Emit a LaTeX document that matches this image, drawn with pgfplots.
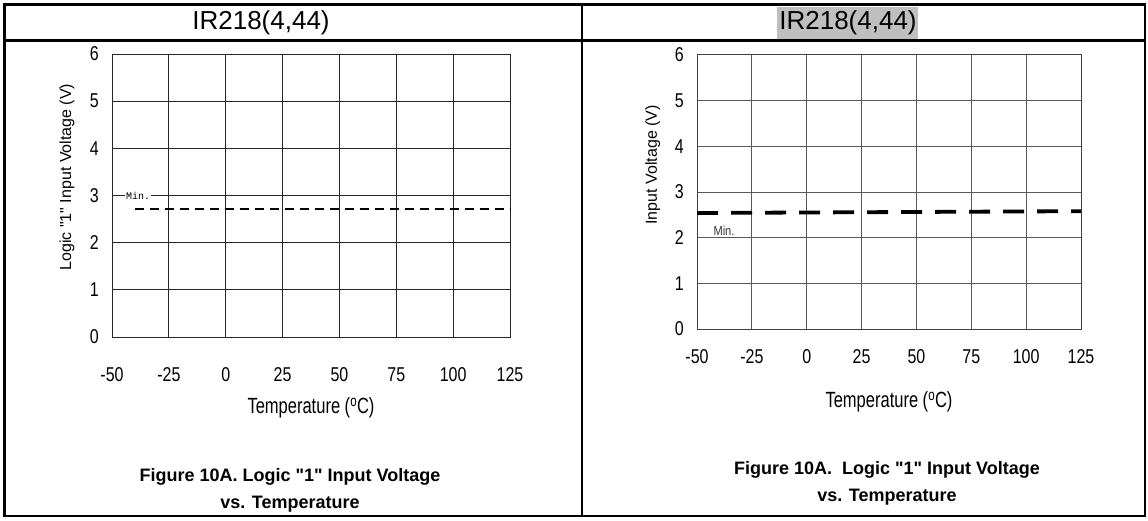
\documentclass[border=0pt]{standalone}
\usepackage{graphicx}
\usepackage{pgfplots}
\pgfplotsset{compat=1.18}
\usepackage{fontspec}
\setmainfont{Liberation Sans}[Ligatures=TeXOff]
\newfontfamily\monofont{Liberation Mono}
\pgfplotsset{chip/.style={
  scale only axis, anchor=south west,
  xmin=-50, xmax=125, ymin=0, ymax=6,
  xtick={-50,-25,0,25,50,75,100,125},
  ytick={0,1,2,3,4,5,6},
  grid=major, major tick length=0pt,
  clip=false,
  xticklabel={\scalebox{0.8}[1]{\pgfmathprintnumber[assume math mode=true]{\tick}}},
  yticklabel={\scalebox{0.8}[1]{\pgfmathprintnumber[assume math mode=true]{\tick}}},
  yticklabel style={anchor=east, inner sep=0pt, xshift=-13pt},
  xlabel style={anchor=center, font=\fontsize{22}{24}\selectfont},
  ylabel style={anchor=center, font=\fontsize{16}{18}\selectfont},
}}
\begin{document}
\begin{tikzpicture}[x=1pt,y=1pt]
\useasboundingbox (0,0) rectangle (1148,520);
% table frame
\fill[black!25] (777,513) rectangle (918,480);
\draw[line width=2.5pt] (4.5,4) rectangle (1145,515.5);
\draw[line width=2.5pt] (4.5,479.5) -- (1145,479.5);
\draw[line width=2.5pt] (582,4) -- (582,515.5);
\node[font=\fontsize{26}{28}\selectfont] at (261,497) {IR218(4,44)};
\node[font=\fontsize{26}{28}\selectfont] at (848,497) {IR218(4,44)};

% left chart
\begin{axis}[chip, at={(112pt,183pt)}, width=398pt, height=283pt,
  axis line style={black!85, line width=0.9pt},
  grid style={black!85, line width=0.9pt},
  tick label style={font=\fontsize{20}{22}\selectfont},
  xticklabel style={anchor=center, inner sep=0pt, yshift=-38pt},
  xlabel={\scalebox{0.75}[1]{Temperature (\textsuperscript{o}C)}},
  xlabel style={at={(axis description cs:0.5,-0.251)}},
  ylabel={Logic "1" Input Voltage (V)},
  ylabel style={at={(axis description cs:-0.113,0.565)}},
]
\addplot[black, line width=2.3pt, dash pattern=on 9.5pt off 5.5pt] coordinates {(-40,2.72) (125,2.72)};
\node[fill=white, inner sep=1pt, font=\monofont\fontsize{10}{11}\selectfont] at (axis cs:-38.5,3) {Min.};
\end{axis}

% right chart
\begin{axis}[chip, at={(697pt,191pt)}, width=384pt, height=274pt,
  axis line style={black!75, line width=1pt},
  grid style={black!65, line width=1pt},
  tick label style={font=\fontsize{20}{22}\selectfont},
  xticklabel style={anchor=center, inner sep=0pt, yshift=-28pt},
  xlabel={\scalebox{0.75}[1]{Temperature (\textsuperscript{o}C)}},
  xlabel style={at={(axis description cs:0.5,-0.266)}},
  ylabel={Input Voltage (V)},
  ylabel style={at={(axis description cs:-0.115,0.599)}},
]
\addplot[black, line width=3.8pt, dash pattern=on 21pt off 13pt] coordinates {(-50,2.54) (125,2.58)};
\node[inner sep=0pt, text=black!80, font=\fontsize{13}{14}\selectfont] at (axis cs:-37.7,2.16) {\scalebox{0.85}[1]{Min.}};
\end{axis}

% captions
\node[align=center, font=\fontsize{18}{27}\selectfont\bfseries] at (290,29.5) {Figure 10A. Logic "1" Input Voltage\\vs. Temperature};
\node[align=center, font=\fontsize{18}{27}\selectfont\bfseries] at (887,36.5) {Figure 10A.\ \ Logic "1" Input Voltage\\vs. Temperature};
\end{tikzpicture}
\end{document}
